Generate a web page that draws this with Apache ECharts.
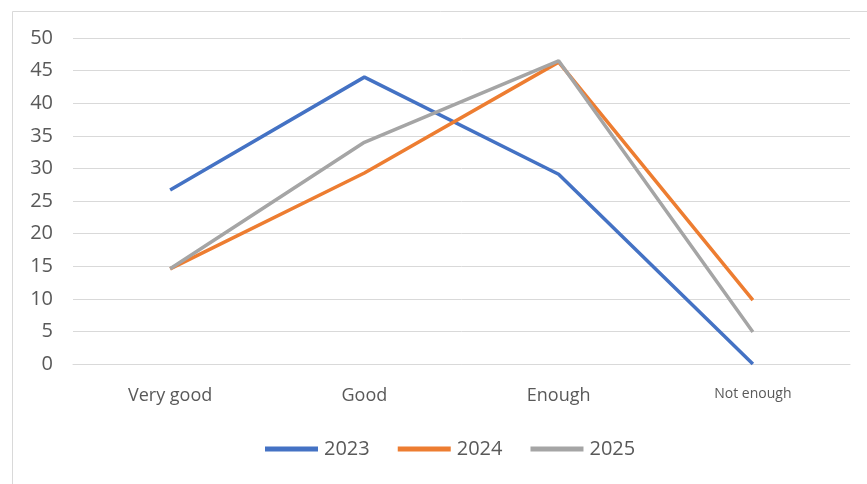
<!DOCTYPE html>
<html>
<head>
<meta charset="utf-8">
<script src="https://cdn.jsdelivr.net/npm/echarts@6/dist/echarts.min.js"></script>
<style>
  html, body { margin: 0; padding: 0; background: #fff; }
  #chart { width: 867px; height: 484px; }
</style>
</head>
<body>
<div id="chart"></div>
<script>
// chart data
const categories = ['Very good', 'Good', 'Enough', 'Not enough'];
const years = ['2023', '2024', '2025'];
const values2023 = [26.7, 44.0, 29.1, 0];
const values2024 = [14.6, 29.3, 46.3, 9.8];
const values2025 = [14.6, 34.0, 46.5, 4.9];
const yTicks = { min: 0, max: 50, interval: 5 };

const colors = ['#4472C4', '#ED7D31', '#A5A5A5'];
const allValues = [values2023, values2024, values2025];

/*
 * excel style category labels, the last one is rendered smaller
 */
const catFontSizes = [18, 18, 18, 14];
const xData = categories.map(function (c, i) {
    return { value: c, textStyle: { fontSize: catFontSizes[i] } };
});

const chart = echarts.init(document.getElementById('chart'), null, { renderer: 'canvas' });

const option = {
    animation: false,
    backgroundColor: '#fff',
    color: colors,
    textStyle: { fontFamily: 'Open Sans' },
    graphic: [{
        type: 'rect',
        left: 10, top: 9,
        shape: { width: 870, height: 490 },
        style: { fill: 'none', stroke: '#d9d9d9', lineWidth: 1 },
        silent: true
    }],
    grid: { left: 73, right: 17, top: 38, bottom: 120, containLabel: false },
    legend: {
        data: years,
        top: 434,
        left: 260,
        itemWidth: 53,
        itemHeight: 5,
        itemGap: 28,
        icon: 'rect',
        textStyle: { fontSize: 20, color: '#595959', padding: [0, 0, 0, 1] }
    },
    xAxis: {
        type: 'category',
        data: xData,
        boundaryGap: true,
        axisLine: { show: true, lineStyle: { color: '#d9d9d9' } },
        axisTick: { show: false },
        axisLabel: { color: '#595959', margin: 23 }
    },
    yAxis: {
        type: 'value',
        min: yTicks.min,
        max: yTicks.max,
        interval: yTicks.interval,
        axisLine: { show: false },
        axisTick: { show: false },
        axisLabel: { color: '#595959', fontSize: 20, margin: 20 },
        splitLine: { show: true, lineStyle: { color: '#d9d9d9', width: 1 } }
    },
    series: years.map(function (y, i) {
        return {
            name: y,
            type: 'line',
            data: allValues[i],
            symbol: 'none',
            lineStyle: { width: 3.5, color: colors[i] },
            itemStyle: { color: colors[i] }
        };
    })
};

chart.setOption(option);
</script>
</body>
</html>
